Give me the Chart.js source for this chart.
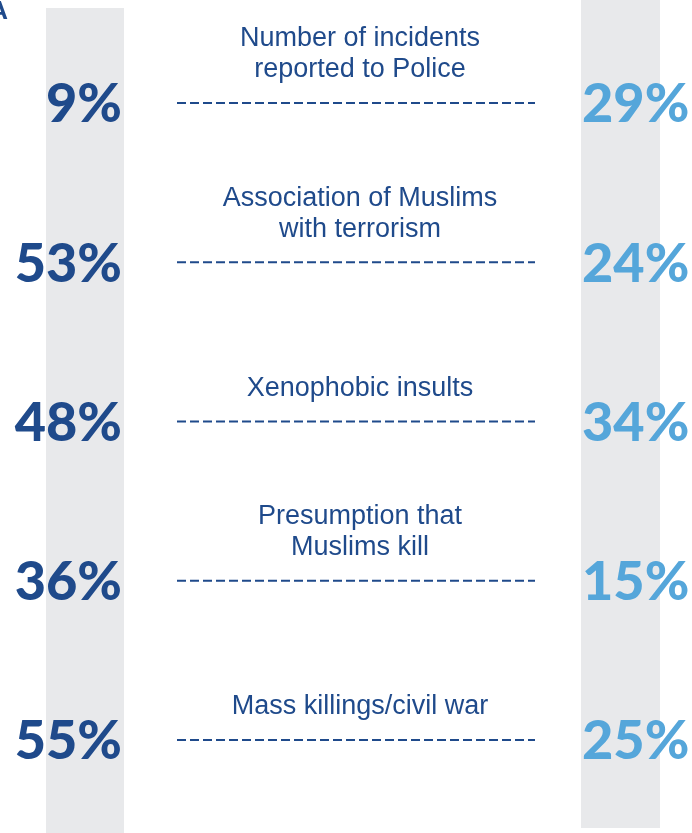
<!DOCTYPE html>
<html lang="en">
<head>
<meta charset="utf-8" />
<title>Incidents comparison</title>
<script src="https://cdn.jsdelivr.net/npm/chart.js@4/dist/chart.umd.min.js"></script>
<style type="text/css">
	html, body { margin: 0; padding: 0; background: #ffffff; }
	#wrap { width: 692px; height: 833px; position: relative; }
</style>
</head>
<body>
<div id="wrap"><canvas id="chart"></canvas></div>
<script type="text/javascript">
// categories (multi-line labels) and the two series of percentages
var categories = [
	["Number of incidents", "reported to Police"],
	["Association of Muslims", "with terrorism"],
	["Xenophobic insults"],
	["Presumption that", "Muslims kill"],
	["Mass killings/civil war"]
];
var leftValues = [9, 53, 48, 36, 55];
var rightValues = [29, 24, 34, 15, 25];

var darkBlue = "#1f4a8b";
var lightBlue = "#55a6da";
var bandGray = "#e8e9eb";

// grey columns behind the figures, the clipped heading letter
var backdrop = {
	id: "backdrop",
	beforeDatasetsDraw: function(chart){
		var ctx = chart.ctx;
		ctx.save();
		ctx.fillStyle = bandGray;
		ctx.fillRect(46, 8, 78, 825);
		ctx.fillRect(581, 0, 79, 828);
		ctx.fillStyle = darkBlue;
		ctx.font = "bold 26px 'Liberation Sans'";
		ctx.textAlign = "right";
		ctx.textBaseline = "alphabetic";
		ctx.fillText("A", 8, 19);
		ctx.restore();
	}
};

// figures, category captions and dashed rules, placed on the points
var rowText = {
	id: "rowText",
	afterDatasetsDraw: function(chart){
		var ctx = chart.ctx;
		var left = chart.getDatasetMeta(0).data;
		var right = chart.getDatasetMeta(1).data;
		ctx.save();
		ctx.textBaseline = "middle";
		ctx.font = "900 54px Lato";
		for(var i = 0; i < left.length; i++){
			ctx.fillStyle = darkBlue;
			ctx.textAlign = "right";
			ctx.fillText(leftValues[i] + "%", left[i].x, left[i].y + 2);
			ctx.fillStyle = lightBlue;
			ctx.textAlign = "left";
			ctx.fillText(rightValues[i] + "%", right[i].x, right[i].y + 2);
		}
		var cx = 360;
		for(var j = 0; j < left.length; j++){
			var y = left[j].y;
			ctx.strokeStyle = darkBlue;
			ctx.lineWidth = 2;
			ctx.setLineDash([9, 4]);
			ctx.beginPath();
			ctx.moveTo(177, y);
			ctx.lineTo(535, y);
			ctx.stroke();
			ctx.setLineDash([]);
			var lines = categories[j];
			ctx.fillStyle = darkBlue;
			ctx.textAlign = "center";
			ctx.font = "27px 'Liberation Sans'";
			for(var k = 0; k < lines.length; k++){
				var ly = y - 33 - (lines.length - 1 - k) * 31;
				ctx.fillText(lines[k], cx, ly);
			}
		}
		ctx.restore();
	}
};

var leftPoints = leftValues.map(function(v, i){ return {x: 0, y: i}; });
var rightPoints = rightValues.map(function(v, i){ return {x: 1, y: i}; });

new Chart(document.getElementById("chart"), {
	type: "scatter",
	data: {
		labels: categories,
		datasets: [
			{label: "Left", data: leftPoints, pointRadius: 0, borderColor: darkBlue, backgroundColor: darkBlue},
			{label: "Right", data: rightPoints, pointRadius: 0, borderColor: lightBlue, backgroundColor: lightBlue}
		]
	},
	options: {
		responsive: true,
		maintainAspectRatio: false,
		animation: false,
		events: [],
		layout: {padding: {left: 122, right: 110, top: 103, bottom: 93}},
		plugins: {legend: {display: false}, tooltip: {enabled: false}},
		scales: {
			x: {type: "linear", min: 0, max: 1, display: false},
			y: {type: "category", labels: categories, offset: false, display: false}
		}
	},
	plugins: [backdrop, rowText]
});
</script>
</body>
</html>
